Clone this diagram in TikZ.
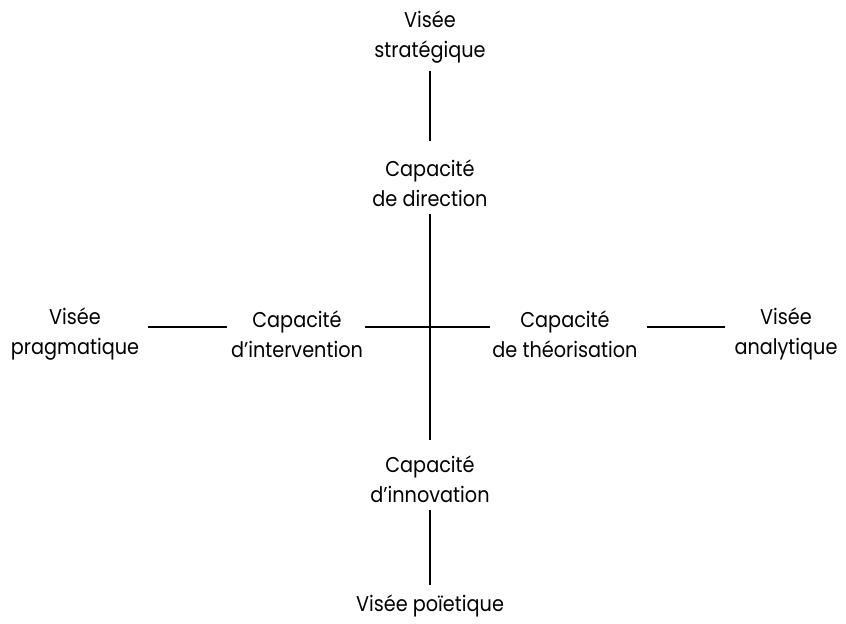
\documentclass[tikz,border=0pt]{standalone}
\usepackage{fontspec}
\setmainfont{Poppins}[FakeStretch=0.9]
\usetikzlibrary{calc}

\begin{document}
\begin{tikzpicture}[x=0.5pt,y=0.5pt]
		\tikzset{
			libelle/.style={align=center,inner xsep=0pt,inner ysep=3.5pt,font=\fontsize{10.7}{15}\selectfont},
			trait/.style={black,line width=0.6pt}
		}
		\useasboundingbox (0,0) rectangle (846,623);
		
		% Visees et capacites
		\node[libelle] (strat) at (430,586) {Visée\\stratégique};
		\node[libelle] (direc) at (430,440) {Capacité\\de direction};
		\node[libelle] (interv) at (297,289) {Capacité\\d’intervention};
		\node[libelle] (pragm) at (75,289) {Visée\\pragmatique};
		\node[libelle] (theor) at (565,289) {Capacité\\de théorisation};
		\node[libelle] (analy) at (786,289) {Visée\\analytique};
		\node[libelle] (innov) at (430,144) {Capacité\\d’innovation};
		\node[libelle] (poiet) at (430,17) {Visée poïetique};
		
		%% Axe vertical
		\draw[trait,shorten >=5.5pt] (strat) -- (direc);
		\draw[trait,shorten >=4pt] (direc) -- (innov);
		\draw[trait,shorten >=1pt] (innov) -- (poiet);
		
		%% Axe horizontal
		\draw[trait,shorten <=4.5pt,shorten >=2pt] ($(pragm.east)+(0,7)$) -- ($(interv.west)+(0,7)$);
		\draw[trait,shorten <=1pt,shorten >=1pt] ($(interv.east)+(0,7)$) -- ($(theor.west)+(0,7)$);
		\draw[trait,shorten <=4.5pt,shorten >=4.5pt] ($(theor.east)+(0,7)$) -- ($(analy.west)+(0,7)$);
	\end{tikzpicture}
\end{document}
